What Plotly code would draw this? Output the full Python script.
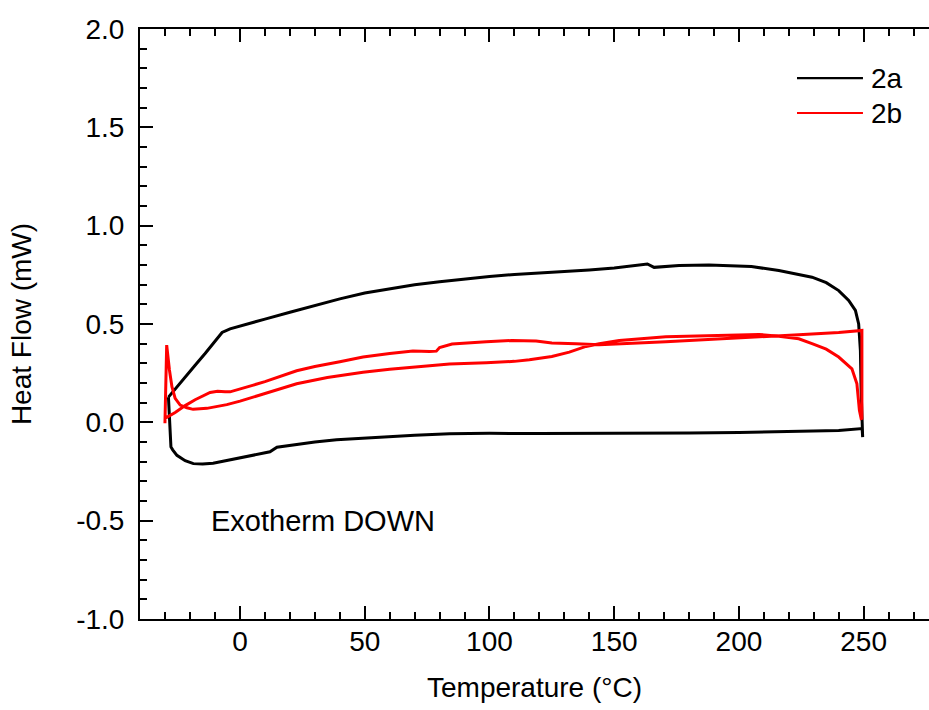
import plotly.graph_objects as go

# ---- Data: sample 2a (black loop) ----
a_x = [-28.7, -26, -22, -18, -14, -10, -7.2, -4, 0, 10, 20, 30, 40, 50, 60, 70, 80, 90,
       100, 110, 120, 128, 140, 150, 160, 163.3, 166, 176, 188, 205, 216, 222, 229.3, 235,
       240, 244, 246.7, 248, 248.7, 249, 249.3, 249.6, 249.4,
       240, 230, 216, 200, 180, 160, 140, 120, 100, 84, 70, 55, 45, 38.7, 30, 22, 14.8, 12,
       5, 0, -5, -10.8, -15, -18.7, -22, -25.3, -27, -27.7, -28.7]
a_y = [0.128, 0.17, 0.23, 0.29, 0.35, 0.41, 0.457, 0.475, 0.49, 0.525, 0.56, 0.595, 0.628,
       0.658, 0.68, 0.70, 0.715, 0.73, 0.742, 0.752, 0.759, 0.763, 0.775, 0.785, 0.802, 0.805,
       0.788, 0.797, 0.80, 0.792, 0.772, 0.758, 0.738, 0.71, 0.67, 0.62, 0.569, 0.50, 0.365,
       0.16, 0.027, -0.075, -0.032,
       -0.042, -0.045, -0.049, -0.052, -0.054, -0.056, -0.057, -0.057, -0.056, -0.058,
       -0.066, -0.076, -0.082, -0.088, -0.1, -0.113, -0.127, -0.15,
       -0.168, -0.18, -0.19, -0.208, -0.212, -0.21, -0.195, -0.168, -0.14, -0.125, 0.128]

# ---- Data: sample 2b (red loop) ----
b_x = [-30.1, -29.4, -28.3, -27.3, -26, -24, -21.3, -18.8, -13.3, -5.3, 0, 5, 10, 22.7, 35,
       49.3, 60, 76, 84, 98.7, 110, 116, 125, 132, 138.7, 144, 152, 170.7, 197, 208, 216,
       224, 229.3, 235, 240, 245.3, 247.3, 248.3, 249, 249.3, 249.3,
       240, 224, 210.7, 197, 170.7, 152, 144, 134.7, 125, 118.7, 109, 98.7, 85, 80, 78.7,
       76, 72, 69.3, 60, 49.3, 40, 30, 22.7, 16, 10, 5, 0, -4, -6, -9, -12, -15, -18, -22,
       -26, -30.1]
b_y = [-0.005, 0.393, 0.266, 0.181, 0.122, 0.088, 0.074, 0.066, 0.071, 0.09, 0.108, 0.128,
       0.148, 0.196, 0.228, 0.255, 0.27, 0.289, 0.297, 0.303, 0.31, 0.318, 0.335, 0.357,
       0.386, 0.40, 0.416, 0.435, 0.446, 0.447, 0.438, 0.425, 0.40, 0.372, 0.332, 0.272,
       0.196, 0.061, 0.019, 0.02, 0.467,
       0.457, 0.445, 0.438, 0.428, 0.41, 0.398, 0.395, 0.399, 0.403, 0.413, 0.416, 0.41,
       0.398, 0.38, 0.362, 0.36, 0.362, 0.363, 0.35, 0.332, 0.308, 0.284, 0.262, 0.232,
       0.207, 0.188, 0.168, 0.155, 0.155, 0.158, 0.152, 0.135, 0.115, 0.085, 0.05, 0.02]

x_range = [-40.1, 276.2]
y_range = [-1.0, 2.0]
x_ticks = [0, 50, 100, 150, 200, 250]
y_ticks = [-1.0, -0.5, 0.0, 0.5, 1.0, 1.5, 2.0]
y_ticklabels = ["-1.0", "-0.5", "0.0", "0.5", "1.0", "1.5", "2.0"]
x_title = "Temperature (°C)"
y_title = "Heat Flow (mW)"
note = "Exotherm DOWN"
names = ["2a", "2b"]
colors = ["#000000", "#ff0000"]

FONT = "Liberation Sans, Arial, Helvetica, sans-serif"
FS = 28

fig = go.Figure()
fig.add_trace(go.Scatter(x=a_x, y=a_y, mode="lines", name=names[0],
                         line=dict(color=colors[0], width=3), showlegend=False))
fig.add_trace(go.Scatter(x=b_x, y=b_y, mode="lines", name=names[1],
                         line=dict(color=colors[1], width=3), showlegend=False))

axis_common = dict(
    showgrid=False, zeroline=False, showline=True, linecolor="black", linewidth=2,
    ticks="inside", tickwidth=2, ticklen=13, tickcolor="black",
    tickfont=dict(family=FONT, size=FS, color="black"),
)

fig.update_xaxes(range=x_range, tickmode="array", tickvals=x_ticks, mirror="ticks",
                 minor=dict(ticks="inside", tick0=0, dtick=10, ticklen=7, tickwidth=2, tickcolor="black"),
                 title=dict(text=x_title, font=dict(family=FONT, size=FS, color="black"), standoff=22),
                 ticklabelstandoff=-4,
                 **axis_common)
fig.update_yaxes(range=y_range, tickmode="array", tickvals=y_ticks, ticktext=y_ticklabels,
                 minor=dict(ticks="inside", tick0=0, dtick=0.1, ticklen=7, tickwidth=2, tickcolor="black"),
                 title=dict(text=y_title, font=dict(family=FONT, size=FS, color="black"), standoff=36),
                 ticklabelstandoff=8,
                 **axis_common)

# manual legend
legend_rows = [(0.9169, colors[0], names[0]), (0.8576, colors[1], names[1])]
for yy, c, n in legend_rows:
    fig.add_shape(type="line", xref="paper", yref="paper", x0=0.8327, x1=0.9163, y0=yy, y1=yy,
                  line=dict(color=c, width=2.2))
    fig.add_annotation(xref="paper", yref="paper", x=0.9235, y=yy, text=n, showarrow=False,
                       xanchor="left", yanchor="middle",
                       font=dict(family=FONT, size=FS, color="black"))

fig.add_annotation(x=-12.5, y=-0.5, xref="x", yref="y", text=note, showarrow=False,
                   xanchor="left", yanchor="middle",
                   font=dict(family=FONT, size=29, color="black"))

fig.update_layout(
    width=929, height=710, autosize=False,
    margin=dict(l=140, r=0, t=29, b=91),
    paper_bgcolor="white", plot_bgcolor="white",
    font=dict(family=FONT, size=FS, color="black"),
)

fig.write_html("out.html")
